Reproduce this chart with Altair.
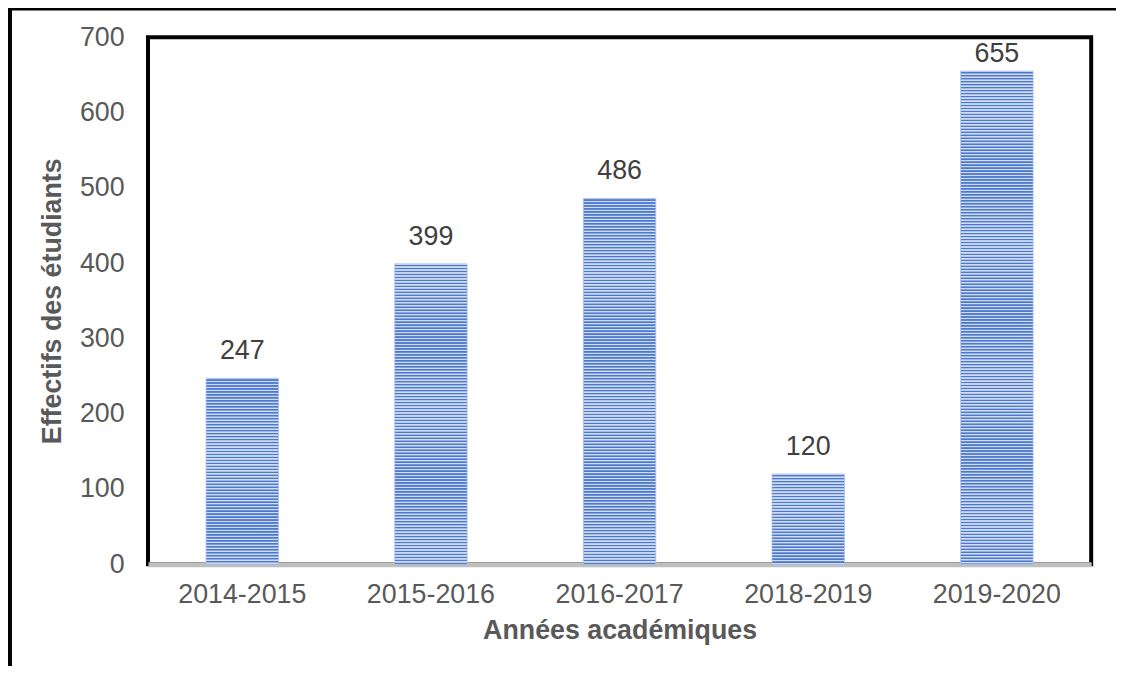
import altair as alt
import pandas as pd

years = ["2014-2015", "2015-2016", "2016-2017", "2018-2019", "2019-2020"]
effectifs = [247, 399, 486, 120, 655]
y_ticks = [0, 100, 200, 300, 400, 500, 600, 700]

W, H = 950, 531
Y_MAX = 700
DARK = "#4d79cc"
LIGHT = "#cfdbf3"
PERIOD_PX = 3.0

df = pd.DataFrame({"annee": years, "effectif": effectifs})

FONT = "Liberation Sans"
x_enc = alt.X("annee:N", sort=years,
              scale=alt.Scale(paddingInner=0.616, paddingOuter=0.308),
              axis=alt.Axis(title="Années académiques", labelAngle=0, ticks=False,
                            labelPadding=17, titlePadding=11, domainColor="#bfbfbf",
                            domainWidth=5, labelColor="#595959", titleColor="#595959",
                            labelFontSize=27, titleFontSize=27, titleFontWeight="bold",
                            labelFont=FONT, titleFont=FONT))
y_enc = alt.Y("effectif:Q",
              scale=alt.Scale(domain=[0, Y_MAX], nice=False),
              axis=alt.Axis(title="Effectifs des étudiants", values=y_ticks, grid=False,
                            ticks=False, domain=False, labelPadding=24, titlePadding=13,
                            labelColor="#595959", titleColor="#595959",
                            labelFontSize=27, titleFontSize=27, titleFontWeight="bold",
                            labelFont=FONT, titleFont=FONT))


def stripes(value):
    px = value * H / Y_MAX
    p = PERIOD_PX / px
    stops = []
    k = 0
    pattern = [(0.0, LIGHT), (0.22, LIGHT), (0.42, DARK), (0.72, DARK), (0.92, LIGHT)]
    while k * p < 1:
        for f, c in pattern:
            off = (k + f) * p
            if off <= 1:
                stops.append(alt.GradientStop(offset=off, color=c))
        k += 1
    return alt.LinearGradient(gradient="linear", stops=stops, x1=0, x2=0, y1=0, y2=1)


base = alt.Chart(df)
layers = []
for yr, v in zip(years, effectifs):
    layers.append(
        base.transform_filter(alt.datum.annee == yr)
        .mark_bar(color=stripes(v), stroke="#a9bfe8", strokeWidth=1, strokeOpacity=0.8)
        .encode(x=x_enc, y=y_enc)
    )

labels = base.transform_calculate(ly="min(datum.effectif, 642)").mark_text(
    baseline="bottom", dy=-13, fontSize=27, color="#404040", font=FONT).encode(
    x=alt.X("annee:N", sort=years), y="ly:Q", text="effectif:Q")

frame_df = pd.DataFrame({"k": [0]})
frame_left = alt.Chart(frame_df).mark_rule(color="black", strokeWidth=5).encode(
    x=alt.value(-139.5), y=alt.value(-29.5), y2=alt.value(700))
frame_top = alt.Chart(frame_df).mark_rule(color="black", strokeWidth=3).encode(
    x=alt.value(-142), x2=alt.value(1100), y=alt.value(-28.3))

chart = alt.layer(*layers, labels, frame_left, frame_top).properties(
    width=W, height=H,
    background="white",
    autosize=alt.AutoSizeParams(type="none"),
    padding={"left": 141, "top": 27, "right": 25, "bottom": 100},
).configure_view(stroke="black", strokeWidth=4)

chart.save("out.html", embed_options={"renderer": "svg", "actions": False})
